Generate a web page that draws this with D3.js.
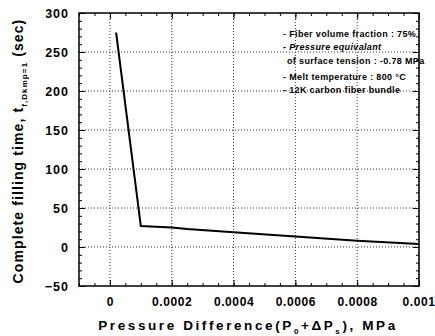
<!DOCTYPE html>
<html><head><meta charset="utf-8">
<script src="https://cdn.jsdelivr.net/npm/d3@7"></script>
<style>body{margin:0;background:#fff}svg{display:block}</style>
</head><body>
<svg id="c" width="435" height="336"></svg>
<script>
const pressure = [0.00002, 0.0001, 0.0002, 0.00025, 0.0004, 0.0006, 0.0008, 0.001];
const fillTime = [275, 27, 25, 23, 19, 13.5, 8, 4];
const xTicks = [0, 0.0002, 0.0004, 0.0006, 0.0008, 0.001];
const xTickLabels = ["0", "0.0002", "0.0004", "0.0006", "0.0008", "0.001"];
const yTicks = [-50, 0, 50, 100, 150, 200, 250, 300];
const notes = ["- Fiber volume fraction : 75%", "- Pressure equivalant", "of surface tension : -0.78 MPa", "- Melt temperature : 800  °C", "- 12K carbon fiber bundle"];

const svg = d3.select("#c");
const L = 79, R = 419, T = 13, B = 286;
const x = d3.scaleLinear().domain([-0.0001, 0.001]).range([L, R]);
const y = d3.scaleLinear().domain([-50, 300]).range([B, T]);
const font = "Liberation Sans, Arial, sans-serif";

// gridlines
const g = svg.append("g");
g.selectAll(".vg").data(xTicks).enter().append("line")
  .attr("x1", d => x(d)).attr("x2", d => x(d)).attr("y1", T).attr("y2", B)
  .attr("stroke", "#333").attr("stroke-width", 1).attr("stroke-dasharray", "1,2");
g.selectAll(".hg").data(yTicks.filter(d => d > -50 && d < 300)).enter().append("line")
  .attr("y1", d => y(d)).attr("y2", d => y(d)).attr("x1", L).attr("x2", R)
  .attr("stroke", "#333").attr("stroke-width", 1).attr("stroke-dasharray", "1,2");

// inward ticks
const yMinor = d3.range(-50, 301, 10);
const xMinor = d3.range(-0.0001, 0.00100001, 0.00005);
function ax(axisFn, scale, tv, size, tr) {
  svg.append("g").attr("transform", tr)
    .call(axisFn(scale).tickValues(tv).tickSize(size).tickFormat(""))
    .call(s => s.select(".domain").remove())
    .call(s => s.selectAll("line").attr("stroke", "#000").attr("stroke-width", 1));
}
ax(d3.axisRight, y, yMinor, 3, `translate(${L},0)`);
ax(d3.axisLeft, y, yMinor, 3, `translate(${R},0)`);
ax(d3.axisRight, y, yTicks, 6, `translate(${L},0)`);
ax(d3.axisLeft, y, yTicks, 6, `translate(${R},0)`);
ax(d3.axisTop, x, xMinor, 3, `translate(0,${B})`);
ax(d3.axisBottom, x, xMinor, 3, `translate(0,${T})`);
ax(d3.axisTop, x, xTicks, 6, `translate(0,${B})`);
ax(d3.axisBottom, x, xTicks, 6, `translate(0,${T})`);

// frame
svg.append("rect").attr("x", L).attr("y", T).attr("width", R - L).attr("height", B - T)
  .attr("fill", "none").attr("stroke", "#000").attr("stroke-width", 1.5);

// tick labels
svg.append("g").attr("transform", `translate(0,${B})`)
  .call(d3.axisBottom(x).tickValues(xTicks).tickSize(0).tickPadding(11).tickFormat((d, i) => xTickLabels[i]))
  .call(s => s.select(".domain").remove())
  .call(s => s.selectAll("text").attr("font-family", font).attr("font-weight", "bold")
    .attr("font-size", 12).attr("letter-spacing", 0.6).attr("fill", "#000"))
  .call(s => s.selectAll(".tick:last-of-type text").attr("text-anchor", "end").attr("dx", 16));
svg.append("g").attr("transform", `translate(${L},0)`)
  .call(d3.axisLeft(y).tickValues(yTicks).tickSize(0).tickPadding(10))
  .call(s => s.select(".domain").remove())
  .call(s => s.selectAll("text").attr("font-family", font).attr("font-weight", "bold")
    .attr("font-size", 12.5).attr("letter-spacing", 1).attr("fill", "#000"));

// data line
svg.append("path").datum(pressure.map((p, i) => [p, fillTime[i]]))
  .attr("d", d3.line().x(d => x(d[0])).y(d => y(d[1])))
  .attr("fill", "none").attr("stroke", "#000").attr("stroke-width", 2);

// annotations
const noteX = [283, 283, 287, 283, 283];
const noteY = [37, 50, 64, 80, 93];
notes.forEach((t, i) => {
  svg.append("text").attr("x", noteX[i]).attr("y", noteY[i])
    .attr("font-family", font).attr("font-weight", "bold").attr("font-size", 9)
    .attr("letter-spacing", 0.35)
    .attr("font-style", i === 1 ? "italic" : "normal").attr("fill", "#000")
    .text(t);
});

// x label
const xl = svg.append("text").attr("x", 248).attr("y", 330).attr("text-anchor", "middle")
  .attr("font-family", font).attr("font-weight", "bold").attr("font-size", 13.5)
  .attr("letter-spacing", 2.6).attr("fill", "#000");
xl.append("tspan").text("Pressure Difference(P");
xl.append("tspan").attr("font-size", 8).attr("dy", 4).text("0");
xl.append("tspan").attr("dy", -4).text("+ΔP");
xl.append("tspan").attr("font-size", 8).attr("dy", 4).text("s");
xl.append("tspan").attr("dy", -4).text("), MPa");

// y label
const yl = svg.append("text").attr("transform", "translate(23,151) rotate(-90)")
  .attr("text-anchor", "middle")
  .attr("font-family", font).attr("font-weight", "bold").attr("font-size", 14)
  .attr("letter-spacing", 1.1).attr("fill", "#000");
yl.append("tspan").text("Complete filling time, t");
yl.append("tspan").attr("font-size", 8).attr("dy", 4).text("f,Dkmp=1");
yl.append("tspan").attr("dy", -4).text(" (sec)");
</script>
</body></html>
